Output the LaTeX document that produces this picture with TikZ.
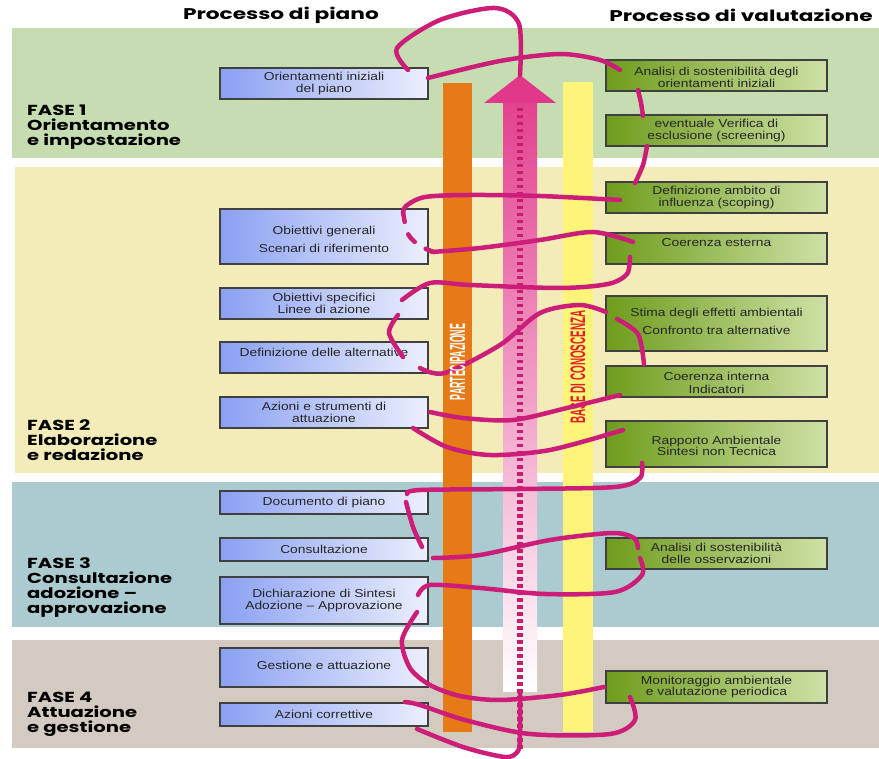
\documentclass[tikz,border=0pt]{standalone}
\usepackage{fontspec}
\usepackage{graphicx}
\setmainfont{Liberation Sans}
\newfontfamily\boxfont[FakeStretch=1.2]{Liberation Sans}
\newfontfamily\headfont[FakeStretch=1.4]{Poppins}
\newfontfamily\fasefont[FakeStretch=1.35]{Poppins}

\definecolor{faseA}{HTML}{C5DDB0}
\definecolor{faseB}{HTML}{F3ECB8}
\definecolor{faseC}{HTML}{ABCBD0}
\definecolor{faseD}{HTML}{D3CBC1}
\definecolor{blueL}{HTML}{8AA0F2}
\definecolor{blueM}{HTML}{B4C2F7}
\definecolor{blueR}{HTML}{ECEFFC}
\definecolor{greenL}{HTML}{6E9C1C}
\definecolor{greenM}{HTML}{9DC05A}
\definecolor{greenR}{HTML}{CFE1A6}
\definecolor{barorange}{HTML}{E57A17}
\definecolor{baryellow}{HTML}{FFF47A}
\definecolor{arrowpink}{HTML}{E2388A}
\definecolor{dotpink}{HTML}{C41E6C}
\definecolor{spiral}{HTML}{CC1E78}
\definecolor{basered}{HTML}{E21F26}

\tikzset{
  lbox/.style={draw=black!75, line width=1.2pt, left color=blueL, middle color=blueM,
    right color=blueR, minimum width=208, minimum height=31, inner sep=0pt},
  rbox/.style={draw=black!75, line width=1.2pt, left color=greenL, middle color=greenM,
    right color=greenR, minimum width=221, minimum height=31, inner sep=0pt},
  btext/.style={font=\boxfont\fontsize{11.5}{11.5}\selectfont, text=black!85, align=center, inner sep=0pt},
  fase/.style={font=\fasefont\bfseries\fontsize{14.5}{15}\selectfont, align=left, anchor=west, inner sep=0pt},
  head/.style={font=\headfont\bfseries\fontsize{15.5}{15.5}\selectfont, inner sep=0pt},
  helix/.style={draw=spiral, line width=4.5pt, line cap=round},
}

\begin{document}
\begin{tikzpicture}[x=1pt,y=-1pt]
\useasboundingbox (0,0) rectangle (879,759);
\fill[white] (0,0) rectangle (879,759);

% fasce
\fill[faseA] (12,28) rectangle (879,158);
\fill[faseB] (15,167) rectangle (879,473);
\fill[faseC] (12,482) rectangle (879,627);
\fill[faseD] (12,640) rectangle (879,748);

\node[head] (hpiano) at (281,15) {Processo di piano};
\node[head] (hvalut) at (741,15) {Processo di valutazione};

\node[fase] (f1) at (27,127.5) {FASE 1\\Orientamento\\e impostazione};
\node[fase] (f2) at (27,440) {FASE 2\\Elaborazione\\e redazione};
\node[fase] (f3) at (27,588) {FASE 3\\Consultazione\\adozione –\\approvazione};
\node[fase] (f4) at (27,714) {FASE 4\\Attuazione\\e gestione};

% barre centrali
\fill[barorange] (443,83) rectangle (472,732);
\fill[baryellow] (563,82) rectangle (593,732);
\shade[top color=arrowpink!95, middle color=arrowpink!55, bottom color=white] (503,103) rectangle (537,691);
\fill[arrowpink] (484,103) -- (520,75) -- (556,103) -- cycle;
\draw[dotpink, line width=5.5pt, dash pattern=on 3.5pt off 3.5pt] (520,108) -- (520,750);

\node[rotate=90, text=basered, font=\bfseries\fontsize{21}{21}\selectfont, inner sep=0pt] (base) at (578,367)
  {\scalebox{0.47}[1]{BASE DI CONOSCENZA}};

% processo di piano
\node[lbox] (L1) at (324,83.5) {};
\node[btext] at (L1) {Orientamenti iniziali\\del piano};
\node[lbox, minimum height=55] (L2) at (324,236.5) {};
\node[btext] at ([yshift=-3]L2.center) {Obiettivi generali\\[6.5pt]Scenari di riferimento};
\node[lbox] (L3) at (324,303.5) {};
\node[btext] at (L3) {Obiettivi specifici\\Linee di azione};
\node[lbox] (L4) at (324,357.5) {};
\node[btext] at ([yshift=5]L4.center) {Definizione delle alternative};
\node[lbox] (L5) at (324,412.5) {};
\node[btext] at (L5) {Azioni e strumenti di\\attuazione};
\node[lbox, minimum height=23] (L6) at (324,502.5) {};
\node[btext] at (L6) {Documento di piano};
\node[lbox, minimum height=23] (L7) at (324,549.5) {};
\node[btext] at (L7) {Consultazione};
\node[lbox, minimum height=47] (L8) at (324,600.5) {};
\node[btext] at (L8) {Dichiarazione di Sintesi\\Adozione – Approvazione};
\node[lbox, minimum height=39] (L9) at (324,667.5) {};
\node[btext] at ([yshift=2.5]L9.center) {Gestione e attuazione};
\node[lbox, minimum height=23] (L10) at (324,714.5) {};
\node[btext] at (L10) {Azioni correttive};

% processo di valutazione
\node[rbox] (R1) at (716.5,75.5) {};
\node[btext] at ([yshift=-2]R1.center) {Analisi di sostenibilità degli\\orientamenti iniziali};
\node[rbox] (R2) at (716.5,130.5) {};
\node[btext] at (R2) {eventuale Verifica di\\esclusione (screening)};
\node[rbox] (R3) at (716.5,197.5) {};
\node[btext] at (R3) {Definizione ambito di\\influenza (scoping)};
\node[rbox] (R4) at (716.5,248.5) {};
\node[btext] at ([yshift=6]R4.center) {Coerenza esterna};
\node[rbox, minimum height=55] (R5) at (716.5,323.5) {};
\node[btext] at ([yshift=2.5]R5.center) {Stima degli effetti ambientali\\[6.5pt]Confronto tra alternative};
\node[rbox] (R6) at (716.5,381.5) {};
\node[btext] at ([yshift=-1.5]R6.center) {Coerenza interna\\[2pt]Indicatori};
\node[rbox, minimum height=46] (R7) at (716.5,444) {};
\node[btext] at ([yshift=-2]R7.center) {Rapporto Ambientale\\Sintesi non Tecnica};
\node[rbox] (R8) at (716.5,553.5) {};
\node[btext] at (R8) {Analisi di sostenibilità\\delle osservazioni};
\node[rbox, minimum height=32] (R9) at (716.5,687) {};
\node[btext] at (R9) {Monitoraggio ambientale\\e valutazione periodica};

% spirale
\draw[helix] plot[smooth] coordinates {(408,70) (397,48) (440,20) (495,8) (519,24) (520,75)};
\draw[helix] plot[smooth] coordinates {(428,78) (500,61) (560,54) (600,60) (620,70)};
\draw[helix] plot[smooth] coordinates {(638,90) (641,103) (643,116)};
\draw[helix] plot[smooth] coordinates {(647,146) (643,165) (635,183)};
\draw[helix] plot[smooth] coordinates {(620,200) (540,196) (470,195) (425,197) (406,206) (403,214)};
\draw[helix, dash pattern=on 10pt off 13pt] plot[smooth] coordinates {(403,212) (408,234) (420,246) (434,252)};
\draw[helix] plot[smooth] coordinates {(432,252) (480,248) (540,240) (593,232) (633,242)};
\draw[helix] plot[smooth] coordinates {(630,257) (627,274) (608,284) (560,288) (470,285) (430,283) (402,300)};
\draw[helix] plot[smooth] coordinates {(398,315) (389,333) (403,357)};
\draw[helix] plot[smooth] coordinates {(420,368) (445,373) (500,345) (540,313) (580,305) (606,312)};
\draw[helix] plot[smooth] coordinates {(617,319) (638,334) (644,364)};
\draw[helix] plot[smooth] coordinates {(620,395) (567,408) (513,420) (463,418) (430,412)};
\draw[helix] plot[smooth] coordinates {(413,428) (447,447) (490,455) (550,450) (623,430)};
\draw[helix] plot[smooth] coordinates {(642,463) (640,478) (615,487) (520,489) (420,490) (407,494)};
\draw[helix] plot[smooth] coordinates {(406,502) (413,527) (422,547)};
\draw[helix] plot[smooth] coordinates {(433,558) (480,555) (550,540) (612,533) (634,538) (638,548)};
\draw[helix] plot[smooth] coordinates {(640,558) (642,575) (615,592) (545,594) (480,588) (430,585) (418,595)};
\draw[helix] plot[smooth] coordinates {(417,612) (402,640) (410,668) (430,685) (460,696) (500,700) (560,695) (604,687)};
\draw[helix] plot[smooth] coordinates {(630,697) (635,720) (610,734) (530,734) (465,720) (420,705) (405,702)};
\draw[helix] plot[smooth] coordinates {(417,729) (463,747) (505,757) (518,751) (520,735) (520,692)};

\node[rotate=90, text=white, font=\bfseries\fontsize{22}{22}\selectfont, inner sep=0pt] (part) at (457.5,362)
  {\scalebox{0.4}[1]{PARTECIPAZIONE}};
\end{tikzpicture}
\end{document}
